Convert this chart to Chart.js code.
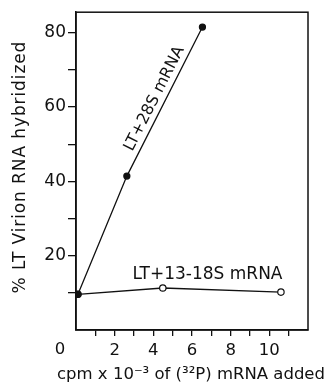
<!DOCTYPE html>
<html>
<head>
<meta charset="utf-8">
<script src="https://cdn.jsdelivr.net/npm/chart.js@4/dist/chart.umd.min.js"></script>
<style>
  html, body { margin: 0; padding: 0; background: #fff; }
  #wrap { width: 329px; height: 383px; position: relative; }
</style>
</head>
<body>
<div id="wrap"><canvas id="chart"></canvas></div>
<script>
// values
const x28S = [0.1, 2.63, 6.54]
const y28S = [9.6, 41.4, 81.5]
const x1318S = [0.1, 4.49, 10.6]
const y1318S = [9.6, 11.3, 10.2]

const xTicks = [1, 2, 3, 4, 5, 6, 7, 8, 9, 10, 11]
const xLabeled = [2, 4, 6, 8, 10]
const yTicks = [10, 20, 30, 40, 50, 60, 70, 80]
const yLabeled = [20, 40, 60, 80]

const label28S = "LT+28S mRNA"
const label1318S = "LT+13-18S mRNA"
const xTitle = "cpm x 10\u207B\u00B3 of (\u00B3\u00B2P) mRNA added"
const yTitle = "% LT Virion RNA hybridized"

const FONT = "'DejaVu Sans', sans-serif"
const INK = "#111"

const toPoints = (xs, ys) => xs.map((x, i) => ({ x: x, y: ys[i] }))

const decorations = {
  id: "decorations",
  afterDraw(chart) {
    const { ctx, chartArea: a, scales: { x, y } } = chart
    ctx.save()
    // box around the plot
    ctx.strokeStyle = INK
    ctx.lineWidth = 1.5
    ctx.strokeRect(a.left, a.top, a.right - a.left, a.bottom - a.top)

    // the corner "0"
    ctx.fillStyle = INK
    ctx.font = "16.5px " + FONT
    ctx.textAlign = "center"
    ctx.textBaseline = "top"
    ctx.fillText("0", x.getPixelForValue(0) - 16, a.bottom + 11)

    // axis titles (drawn here so they may run wider than the axis)
    ctx.textBaseline = "alphabetic"
    ctx.font = "16.5px " + FONT
    ctx.fillText(xTitle, (a.left + a.right) / 2 - 1, chart.height - 4)

    ctx.save()
    ctx.translate(25, (a.top + a.bottom) / 2 - 4)
    ctx.rotate(-Math.PI / 2)
    ctx.font = "17px " + FONT
    ctx.letterSpacing = "0.9px"
    ctx.fillText(yTitle, 0, 0)
    ctx.restore()

    // horizontal series label
    ctx.font = "17px " + FONT
    ctx.textBaseline = "middle"
    ctx.fillText(label1318S, x.getPixelForValue(6.8), y.getPixelForValue(14.8))

    // label running along the steep line
    const p1 = { x: x.getPixelForValue(x28S[1]), y: y.getPixelForValue(y28S[1]) }
    const p2 = { x: x.getPixelForValue(x28S[2]), y: y.getPixelForValue(y28S[2]) }
    const angle = Math.atan2(p2.y - p1.y, p2.x - p1.x)
    ctx.translate(x.getPixelForValue(4.06), y.getPixelForValue(62.2))
    ctx.rotate(angle)
    ctx.font = "16px " + FONT
    ctx.fillText(label28S, 0, 0)
    ctx.restore()
  }
}

new Chart(document.getElementById("chart").getContext("2d"), {
  type: "scatter",
  data: {
    datasets: [
      {
        label: label28S,
        data: toPoints(x28S, y28S),
        showLine: true,
        borderColor: INK,
        borderWidth: 1.3,
        pointRadius: 3,
        pointBackgroundColor: INK,
        pointBorderColor: INK
      },
      {
        label: label1318S,
        data: toPoints(x1318S, y1318S),
        showLine: true,
        borderColor: INK,
        borderWidth: 1.3,
        pointRadius: 3.2,
        pointBorderWidth: 1.2,
        pointBackgroundColor: "#fff",
        pointBorderColor: INK
      }
    ]
  },
  options: {
    responsive: true,
    maintainAspectRatio: false,
    animation: false,
    layout: { padding: { top: 8, right: 21, left: 0, bottom: 0 } },
    plugins: {
      legend: { display: false },
      tooltip: { enabled: false }
    },
    scales: {
      x: {
        type: "linear",
        min: 0,
        max: 12,
        afterBuildTicks: (s) => { s.ticks = xTicks.map(v => ({ value: v })) },
        afterFit: (s) => { s.height = 53 },
        ticks: {
          color: INK,
          font: { family: FONT, size: 16.5 },
          padding: 5,
          maxRotation: 0,
          autoSkip: false,
          callback: (v) => xLabeled.includes(v) ? String(v) : ""
        },
        grid: { drawOnChartArea: false, drawTicks: true, tickLength: 6, color: INK, lineWidth: 1.3 },
        border: { display: true, color: INK, width: 1.5 },
        title: { display: false }
      },
      y: {
        min: 0,
        max: 85.5,
        afterBuildTicks: (s) => { s.ticks = yTicks.map(v => ({ value: v })) },
        afterFit: (s) => { s.width = 76 },
        ticks: {
          color: INK,
          font: { family: FONT, size: 17 },
          padding: 2,
          autoSkip: false,
          callback: (v) => yLabeled.includes(v) ? String(v) : ""
        },
        grid: { drawOnChartArea: false, drawTicks: true, tickLength: 8, color: INK, lineWidth: 1.3 },
        border: { display: true, color: INK, width: 1.5 },
        title: { display: false }
      }
    }
  },
  plugins: [decorations]
})
</script>
</body>
</html>
